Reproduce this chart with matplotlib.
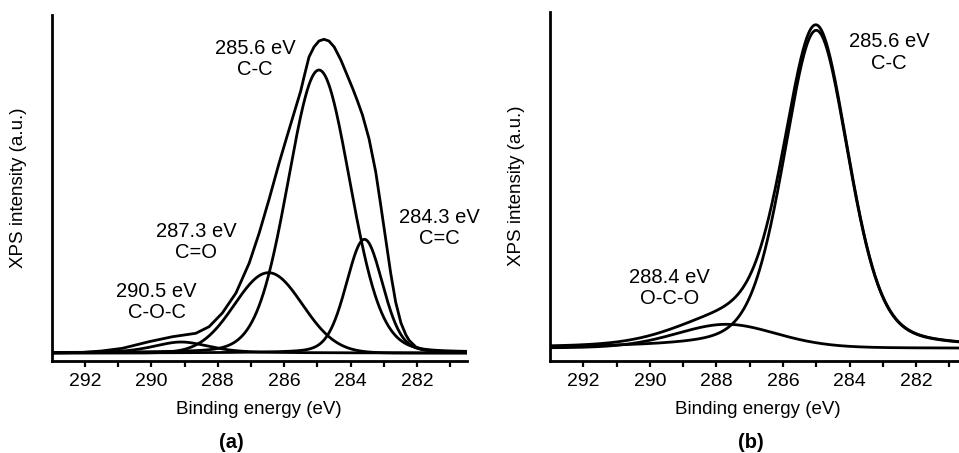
import numpy as np
import matplotlib
matplotlib.use("Agg")
import matplotlib.pyplot as plt

plt.rcParams['font.family'] = ['Liberation Sans', 'DejaVu Sans']

# ---- panel (a) ----
env_a_energy = [293.0, 292.1, 291.5, 290.87, 290.07, 289.36, 288.66, 288.26, 287.86,
                287.45, 287.05, 286.75, 286.45, 286.15, 285.9, 285.7, 285.5, 285.4,
                285.25, 285.1, 284.95, 284.8, 284.65, 284.49, 284.29, 284.09, 283.94,
                283.79, 283.64, 283.44, 283.24, 283.09, 282.94, 282.79, 282.64, 282.48,
                282.33, 282.23, 282.03, 281.83, 281.33, 280.5]
env_a_counts = [0, 0.5, 2, 4.7, 11.3, 16.3, 19.7, 26.3, 40,
                60, 90, 120, 154, 190, 218, 240, 262, 276,
                296, 306, 312, 313.7, 312, 306, 293, 277, 265,
                252, 238, 214, 181, 148, 114, 80, 51, 30,
                18, 12.5, 6, 3.5, 1.3, 0.3]

# fitted components: centre, height, FWHM, Lorentzian fraction
names_a = ['C-C', 'C=C', 'C=O', 'C-O-C']
centres_a = [284.95, 283.58, 286.47, 289.1]
heights_a = [283, 113.7, 80.3, 11]
fwhm_a = [2.2, 1.3, 2.4, 2.0]
eta_a = [0.1, 0.2, 0.0, 0.5]
labels_a = ['285.6 eV\nC-C', '284.3 eV\nC=C', '287.3 eV\nC=O', '290.5 eV\nC-O-C']
label_pos_a = [(286.87, 294), (281.33, 125), (288.65, 111), (289.84, 51)]

# ---- panel (b) ----
names_b = ['C-C', 'O-C-O']
centres_b = [285.0, 287.7]
heights_b = [318, 24]
fwhm_b = [2.3, 3.6]
eta_b = [0.3, 0.2]
labels_b = ['285.6 eV\nC-C', '288.4 eV\nO-C-O']
label_pos_b = [(282.81, 295.8), (289.42, 60)]

energy = np.linspace(293.5, 280.0, 800)


def pseudo_voigt(x, c, h, w, eta):
    g = np.exp(-4 * np.log(2) * (x - c) ** 2 / w ** 2)
    l = 1 / (1 + 4 * (x - c) ** 2 / w ** 2)
    return h * ((1 - eta) * g + eta * l)


def draw_panel(ax, env_x, env_y, centres, heights, fwhm, eta, labels, label_pos, ylim, tag, tag_x):
    comps = [pseudo_voigt(energy, c, h, w, e) for c, h, w, e in zip(centres, heights, fwhm, eta)]
    if env_x is None:
        ax.plot(energy, np.sum(comps, axis=0), color='black', lw=2)
    else:
        ax.plot(env_x, env_y, color='black', lw=2, solid_joinstyle='round')
    for y in comps:
        ax.plot(energy, y, color='black', lw=2)
    for txt, (x, y) in zip(labels, label_pos):
        ax.text(x, y, txt, ha='center', va='center', fontsize=14.5, linespacing=1.15)

    ax.set_xlim(293, 280.5)
    ax.set_ylim(*ylim)
    ax.set_xticks([292, 290, 288, 286, 284, 282])
    ax.set_xticks(np.arange(281, 293, 1), minor=True)
    ax.set_yticks([])
    ax.tick_params(axis='x', which='both', direction='out', length=4.5, width=1.6,
                   labelsize=14, pad=4)
    for s in ['top', 'right']:
        ax.spines[s].set_visible(False)
    for s in ['left', 'bottom']:
        ax.spines[s].set_linewidth(2)
    ax.set_xlabel('Binding energy (eV)', fontsize=13.5, labelpad=8)
    ax.set_ylabel('XPS intensity (a.u.)', fontsize=13.5, labelpad=18)
    ax.text(tag_x, -0.235, tag, transform=ax.transAxes, ha='center', va='center',
            fontsize=14.5, fontweight='bold')


fig = plt.figure(figsize=(9.59, 4.53), dpi=100)
ax_a = fig.add_axes([51.7 / 959, 92 / 453, 415 / 959, 346 / 453])
ax_b = fig.add_axes([550 / 959, 92.3 / 453, 416 / 959, 349 / 453])

draw_panel(ax_a, env_a_energy, env_a_counts, centres_a, heights_a, fwhm_a, eta_a,
           labels_a, label_pos_a, (-8, 338), '(a)', 0.432)
draw_panel(ax_b, None, None, centres_b, heights_b, fwhm_b, eta_b,
           labels_b, label_pos_b, (-12.4, 336.6), '(b)', 0.4825)

fig.savefig('out.png', dpi=100)
